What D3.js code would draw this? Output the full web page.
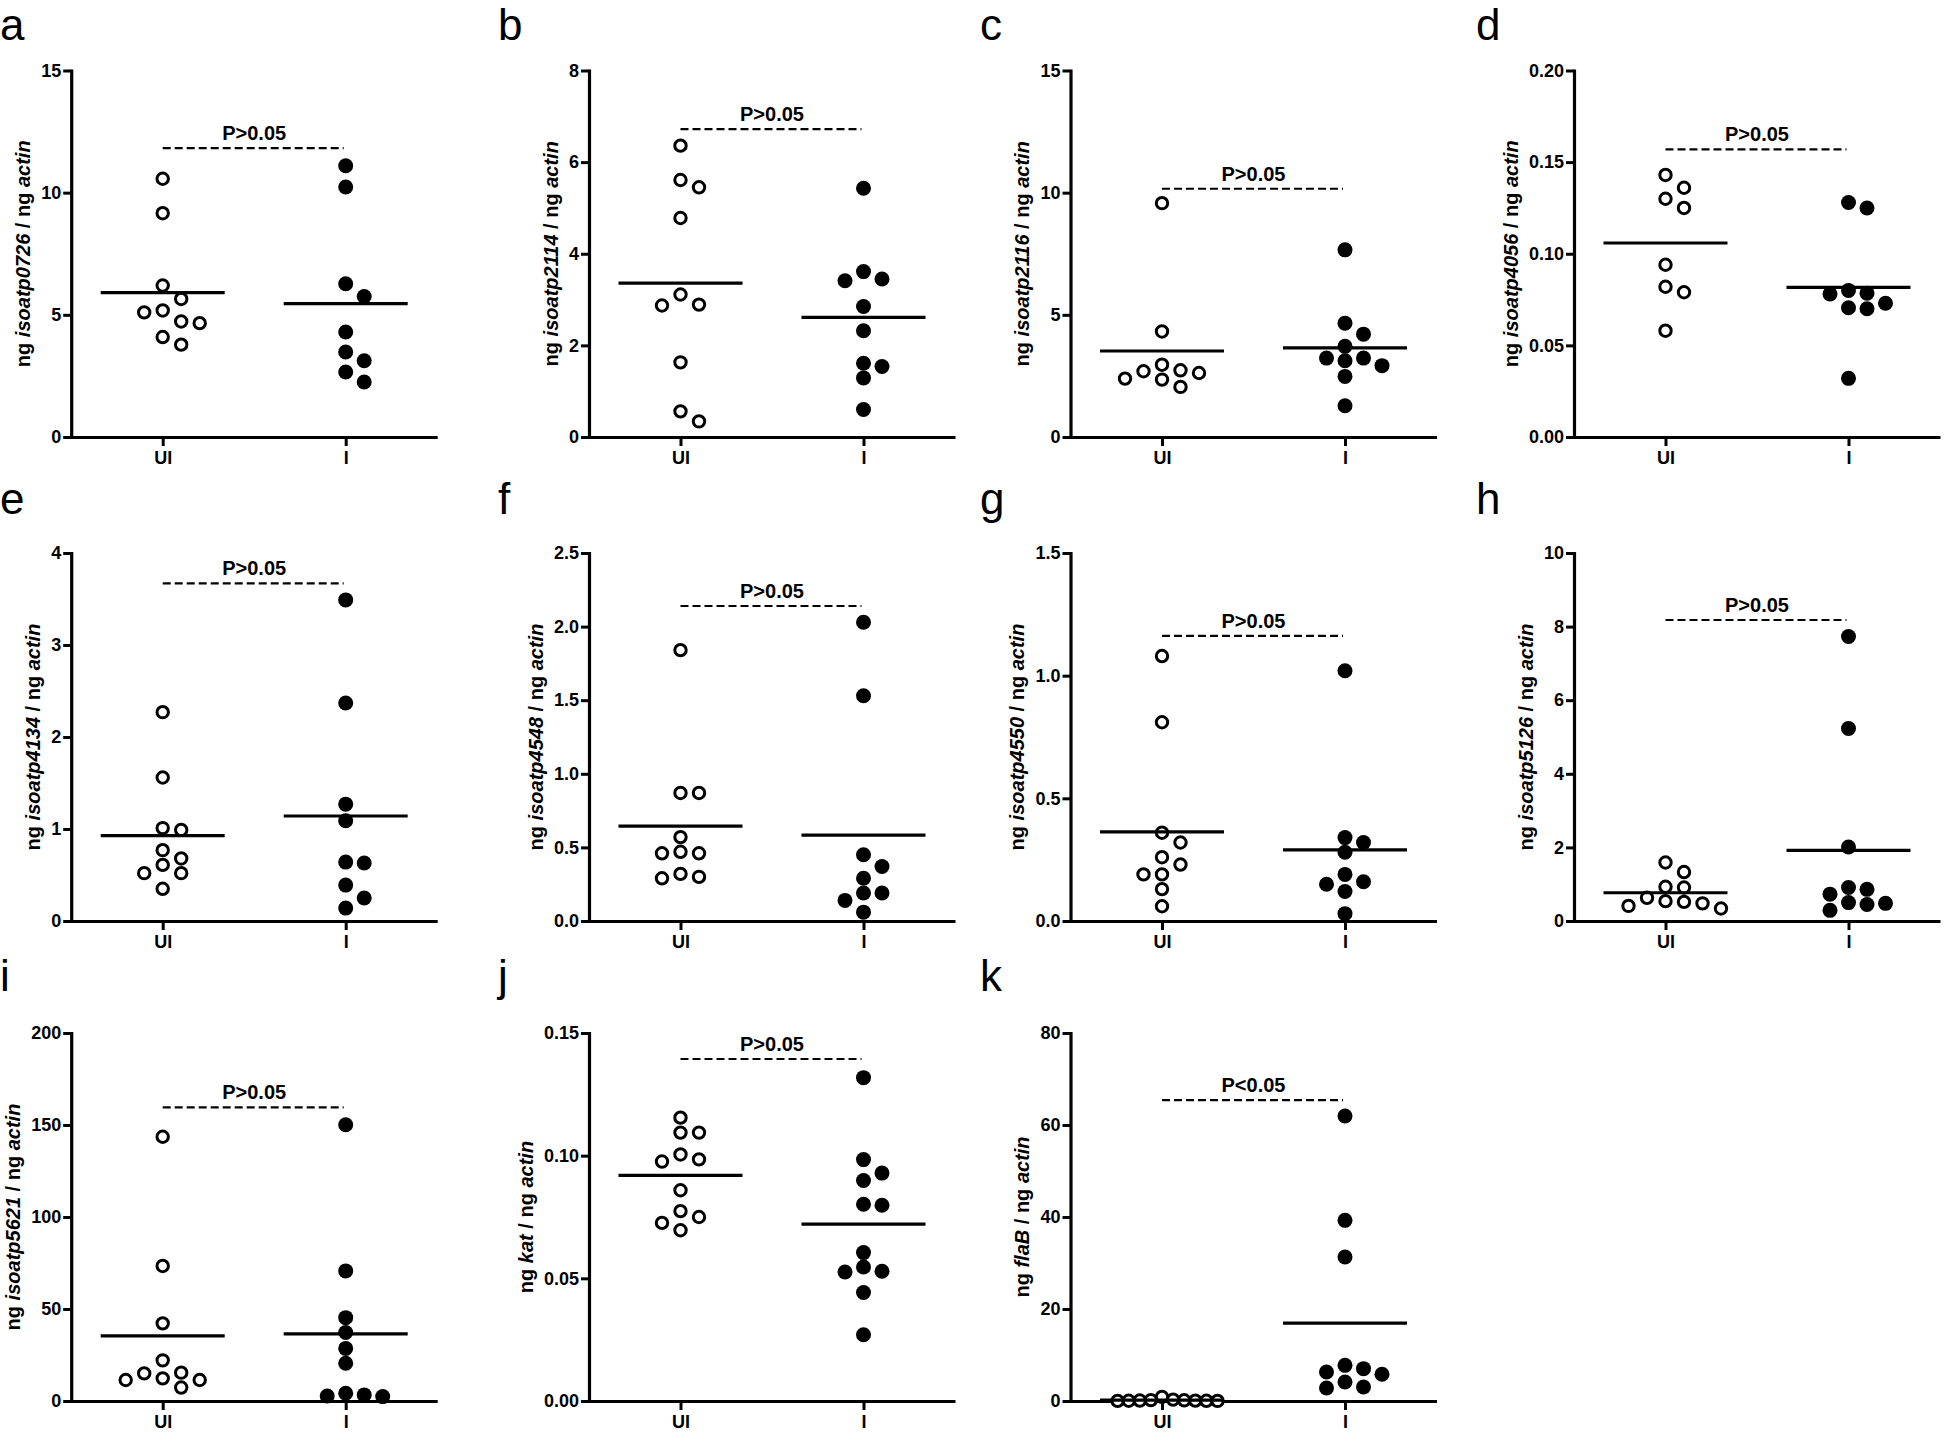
<!DOCTYPE html>
<html><head><meta charset="utf-8">
<script src="https://cdn.jsdelivr.net/npm/d3@7"></script>
<style>
body{margin:0;background:#fff;}
svg{display:block;background:#fff;}
text{font-family:"Liberation Sans",Arial,Helvetica,sans-serif;}
</style></head><body>
<svg id="chart" width="1944" height="1438"></svg>
<script>
// ---------- data ----------
const groups = ["UI", "I"];
const letters = ["a","b","c","d","e","f","g","h","i","j","k"];
const genes = ["isoatp0726","isoatp2114","isoatp2116","isoatp4056","isoatp4134","isoatp4548","isoatp4550","isoatp5126","isoatp5621","kat","flaB"];
const yMax = [15, 8, 15, 0.2, 4, 2.5, 1.5, 10, 200, 0.15, 80];
const yTicks = [
  [0,5,10,15],[0,2,4,6,8],[0,5,10,15],[0,0.05,0.10,0.15,0.20],
  [0,1,2,3,4],[0,0.5,1,1.5,2,2.5],[0,0.5,1,1.5],[0,2,4,6,8,10],
  [0,50,100,150,200],[0,0.05,0.10,0.15],[0,20,40,60,80]
];
const tickFmt = ["d","d","d",".2f","d",".1f",".1f","d","d",".2f","d"];
const pLabels = ["P>0.05","P>0.05","P>0.05","P>0.05","P>0.05","P>0.05","P>0.05","P>0.05","P>0.05","P>0.05","P<0.05"];
const pLineY = [11.82, 6.72, 10.16, 0.157, 3.67, 2.14, 1.162, 8.18, 159.6, 0.1394, 65.4];

const uiA = [10.57, 9.16, 6.20, 5.65, 5.18, 5.10, 4.73, 4.66, 4.09, 3.78];
const inA = [11.10, 10.23, 6.27, 5.75, 4.30, 3.48, 3.12, 2.66, 2.25];
const uiB = [6.36, 5.61, 5.45, 4.78, 3.11, 2.89, 2.87, 1.63, 0.56, 0.34];
const inB = [5.43, 3.61, 3.45, 3.41, 2.85, 2.32, 1.61, 1.54, 1.29, 0.60];
const uiC = [9.57, 4.32, 2.96, 2.73, 2.69, 2.62, 2.39, 2.35, 2.05];
const inC = [7.66, 4.66, 4.21, 3.71, 3.23, 3.23, 3.12, 2.92, 2.48, 1.28];
const uiD = [0.143, 0.136, 0.130, 0.125, 0.094, 0.082, 0.079, 0.058];
const inD = [0.128, 0.125, 0.080, 0.0785, 0.078, 0.073, 0.0705, 0.070, 0.032];
const uiE = [2.27, 1.56, 1.01, 0.99, 0.77, 0.68, 0.61, 0.52, 0.52, 0.35];
const inE = [3.49, 2.37, 1.27, 1.09, 0.64, 0.63, 0.39, 0.25, 0.14];
const uiF = [1.84, 0.87, 0.87, 0.57, 0.47, 0.46, 0.46, 0.32, 0.30, 0.29];
const inF = [2.03, 1.53, 0.45, 0.37, 0.29, 0.19, 0.19, 0.14, 0.06];
const uiG = [1.08, 0.81, 0.36, 0.32, 0.26, 0.23, 0.19, 0.19, 0.13, 0.06];
const inG = [1.02, 0.34, 0.32, 0.28, 0.19, 0.16, 0.15, 0.12, 0.03];
const uiH = [1.59, 1.33, 0.93, 0.91, 0.63, 0.54, 0.52, 0.48, 0.41, 0.34];
const inH = [7.73, 5.23, 2.01, 0.91, 0.86, 0.73, 0.50, 0.48, 0.45, 0.29];
const uiI = [143.6, 73.4, 42.2, 22.1, 15.4, 15.0, 12.3, 11.4, 11.4, 7.3];
const inI = [150.1, 70.7, 45.3, 37.2, 28.6, 20.5, 4.2, 3.3, 2.7, 2.4];
const uiJ = [0.1155, 0.1094, 0.1094, 0.1005, 0.0985, 0.0976, 0.0859, 0.0774, 0.0750, 0.0726, 0.0696];
const inJ = [0.1318, 0.0984, 0.0929, 0.0899, 0.0802, 0.0798, 0.0605, 0.0546, 0.0529, 0.0526, 0.0442, 0.0270];
const uiK = [0.9, 0.3, 0.2, 0.15, 0.1, 0.08, 0.05, 0.04, 0.03, 0.02];
const inK = [61.96, 39.27, 31.30, 7.75, 7.03, 6.30, 5.80, 4.13, 3.04, 2.83];

const uiData = [uiA, uiB, uiC, uiD, uiE, uiF, uiG, uiH, uiI, uiJ, uiK];
const inData = [inA, inB, inC, inD, inE, inF, inG, inH, inI, inJ, inK];

// ---------- layout ----------
const colX = [71.2, 589, 1070.5, 1574];
const letterX = [0, 498, 980, 1476];
const rowTop = [70.5, 553, 1033];
const rowBottom = [437, 921, 1401];
const letterY = [40, 514, 991];
const axisW = 366;
const slotUnit = 18.5, minDist = 14, maxSlot = 3;

const svg = d3.select("#chart");
svg.append("rect").attr("width",1944).attr("height",1438).attr("fill","#fff");

function swarm(vals, y) {
  const order = d3.range(vals.length).sort((a, b) => vals[b] - vals[a]);
  const placed = [];
  const slots = new Array(vals.length).fill(0);
  const cand = [0];
  for (let k = 1; k <= 10; k++) cand.push(k, -k);
  for (const i of order) {
    const py = y(vals[i]);
    for (const s of cand) {
      const ok = placed.every(p => Math.hypot((p.s - s) * slotUnit, p.y - py) >= minDist);
      if (ok) { slots[i] = s; placed.push({s, y: py}); break; }
    }
  }
  const m = d3.max(slots, Math.abs) || 0;
  const f = m > maxSlot ? maxSlot / m : 1;
  return slots.map(s => s * slotUnit * f);
}

letters.forEach((letter, idx) => {
  const r = Math.floor(idx / 4), c = idx % 4;
  const h = rowBottom[r] - rowTop[r];
  const g = svg.append("g").attr("transform", `translate(${colX[c]},${rowTop[r]})`);
  const y = d3.scaleLinear().domain([0, yMax[idx]]).range([h, 0]);
  const x = d3.scalePoint().domain(groups).range([0, axisW]).padding(0.5);

  // panel letter
  svg.append("text").attr("x", letterX[c]).attr("y", letterY[r])
    .attr("font-size", 44).attr("fill", "#000").text(letter);

  // y axis
  const ya = g.append("g").call(
    d3.axisLeft(y).tickValues(yTicks[idx]).tickFormat(d3.format(tickFmt[idx]))
      .tickSize(8).tickSizeOuter(0).tickPadding(2));
  ya.attr("font-size", 18).attr("font-weight", "bold")
    .attr("font-family", '"Liberation Sans",Arial,sans-serif');
  ya.select(".domain").attr("stroke-width", 3.2).attr("stroke-linecap", "square");
  ya.selectAll(".tick line").attr("stroke-width", 3);
  ya.selectAll(".tick text").attr("fill", "#000");

  // x axis
  const xa = g.append("g").attr("transform", `translate(0,${h})`).call(
    d3.axisBottom(x).tickSize(9).tickSizeOuter(0).tickPadding(5));
  xa.attr("font-size", 18).attr("font-weight", "bold")
    .attr("font-family", '"Liberation Sans",Arial,sans-serif');
  xa.select(".domain").attr("stroke-width", 3.2);
  xa.selectAll(".tick line").attr("stroke-width", 3);
  xa.selectAll(".tick text").attr("fill", "#000");

  // y label
  let maxW = 0;
  ya.selectAll(".tick text").each(function () { maxW = Math.max(maxW, this.getComputedTextLength()); });
  const lx = -10 - maxW - 11;
  const lab = g.append("text").attr("transform", `translate(${lx},${h / 2}) rotate(-90)`)
    .attr("text-anchor", "middle").attr("font-size", 20).attr("font-weight", "bold");
  lab.append("tspan").text("ng ");
  lab.append("tspan").attr("font-style", "italic").text(genes[idx]);
  lab.append("tspan").text(" / ng ");
  lab.append("tspan").attr("font-style", "italic").text("actin");

  // points
  const ui = uiData[idx], inf = inData[idx];
  const offUI = swarm(ui, y), offI = swarm(inf, y);
  g.append("g").selectAll("circle").data(ui).join("circle")
    .attr("cx", (d, i) => x("UI") + offUI[i]).attr("cy", d => y(d))
    .attr("r", 5.7).attr("fill", "#fff").attr("stroke", "#000").attr("stroke-width", 3);
  g.append("g").selectAll("circle").data(inf).join("circle")
    .attr("cx", (d, i) => x("I") + offI[i]).attr("cy", d => y(d))
    .attr("r", 7.5).attr("fill", "#000");

  // mean lines
  [[ui, "UI"], [inf, "I"]].forEach(([arr, gname]) => {
    const m = d3.mean(arr);
    g.append("line").attr("x1", x(gname) - 62).attr("x2", x(gname) + 62)
      .attr("y1", y(m)).attr("y2", y(m)).attr("stroke", "#000").attr("stroke-width", 3.2);
  });

  // significance line
  const py = y(pLineY[idx]);
  g.append("line").attr("x1", x("UI")).attr("x2", x("I") - 2).attr("y1", py).attr("y2", py)
    .attr("stroke", "#000").attr("stroke-width", 2.2).attr("stroke-dasharray", "8,4");
  g.append("text").attr("x", (x("UI") + x("I")) / 2).attr("y", py - 8)
    .attr("text-anchor", "middle").attr("font-size", 20).attr("font-weight", "bold").text(pLabels[idx]);
});
</script>
</body></html>
